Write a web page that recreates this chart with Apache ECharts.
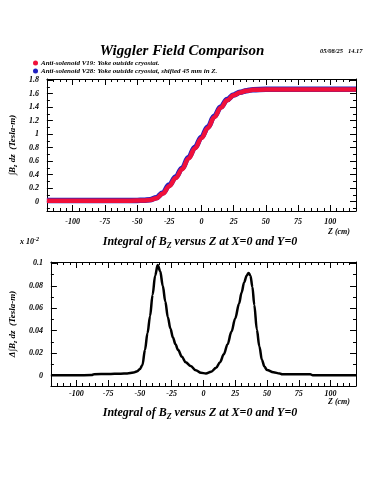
<!DOCTYPE html>
<html>
<head>
<meta charset="utf-8">
<script src="https://cdn.jsdelivr.net/npm/echarts@6/dist/echarts.min.js"></script>
<style>
  html, body { margin: 0; padding: 0; background: #fff; }
  #chart { width: 375px; height: 500px; }
</style>
</head>
<body>
<div id="chart"></div>
<script>
// top panel: integral of Bz along Z
const zTop = [-120, -100, -80, -60, -50, -45, -40, -35, -30, -25, -20, -15, -10, -5, 0, 5, 10, 15, 20, 25, 30, 35, 40, 50, 60, 80, 100, 120];
const fieldV19 = [0.015, 0.015, 0.015, 0.015, 0.016, 0.019, 0.026, 0.05, 0.12, 0.23, 0.35, 0.48, 0.64, 0.79, 0.94, 1.09, 1.25, 1.39, 1.5, 1.575, 1.615, 1.64, 1.655, 1.66, 1.66, 1.66, 1.66, 1.66];
const fieldV28 = [0.017, 0.017, 0.017, 0.017, 0.018, 0.021, 0.03, 0.058, 0.13, 0.245, 0.365, 0.495, 0.655, 0.805, 0.955, 1.105, 1.265, 1.4, 1.51, 1.58, 1.618, 1.642, 1.657, 1.662, 1.662, 1.662, 1.662, 1.662];

// bottom panel: difference
const zDiff = [-120, -100, -88, -86, -75, -65, -60, -55, -52, -50, -48, -46, -44, -42, -40, -38, -36, -34, -32, -30, -28, -26, -24, -22, -20, -17, -14, -10, -6, -2, 2, 6, 10, 13, 16, 19, 22, 25, 28, 30, 32, 34, 35.5, 37, 38.5, 40, 42, 44, 46, 48, 50, 55, 60, 62, 84, 86, 100, 120];
const fieldDiff = [0.0004, 0.0004, 0.0005, 0.0013, 0.0015, 0.0018, 0.002, 0.0028, 0.004, 0.006, 0.0095, 0.023, 0.038, 0.053, 0.072, 0.089, 0.0985, 0.093, 0.08, 0.066, 0.052, 0.042, 0.034, 0.028, 0.023, 0.017, 0.012, 0.0085, 0.0048, 0.0025, 0.002, 0.0034, 0.007, 0.012, 0.019, 0.028, 0.039, 0.051, 0.064, 0.074, 0.083, 0.089, 0.0915, 0.089, 0.079, 0.063, 0.041, 0.026, 0.014, 0.008, 0.005, 0.003, 0.002, 0.0012, 0.0012, 0.0004, 0.0004, 0.0004];

// ticks
const zMajor = [-100, -75, -50, -25, 0, 25, 50, 75, 100];
const zMinor = [-115, -110, -105, -95, -90, -85, -80, -70, -65, -60, -55, -45, -40, -35, -30, -20, -15, -10, -5, 5, 10, 15, 20, 30, 35, 40, 45, 55, 60, 65, 70, 80, 85, 90, 95, 105, 110, 115];
const topMajor = [0, 0.2, 0.4, 0.6, 0.8, 1, 1.2, 1.4, 1.6, 1.8];
const topMinor = [-0.1, 0.1, 0.3, 0.5, 0.7, 0.9, 1.1, 1.3, 1.5, 1.7];
const botMajor = [0, 0.02, 0.04, 0.06, 0.08, 0.1];
const botMinor = [0.01, 0.03, 0.05, 0.07, 0.09];

const serif = "Liberation Serif";
const lab = { fontFamily: serif, fontStyle: "italic", fontWeight: "bold", color: "#000" };

const zRange = [-120, 120];
const topRange = [-0.138, 1.815];
const botRange = [-0.0092, 0.1012];

function xAx(grid, pos, ticks, len, main, labels, margin) {
  return {
    type: "value", gridIndex: grid, position: pos, min: zRange[0], max: zRange[1],
    splitLine: { show: false },
    axisLine: { show: main, onZero: false, lineStyle: { color: "#000", width: 1 } },
    axisTick: { show: true, inside: true, length: len, customValues: ticks, lineStyle: { color: "#000" } },
    axisLabel: labels ? { show: true, customValues: labels, margin: margin, fontSize: 8, ...lab } : { show: false },
  };
}
function yAx(grid, pos, range, ticks, len, main, labels) {
  return {
    type: "value", gridIndex: grid, position: pos, min: range[0], max: range[1],
    splitLine: { show: false },
    axisLine: { show: main, onZero: false, lineStyle: { color: "#000", width: 1 } },
    axisTick: { show: true, inside: true, length: len, customValues: ticks, lineStyle: { color: "#000" } },
    axisLabel: labels ? { show: true, customValues: labels, margin: 8, fontSize: 8, ...lab,
      formatter: (v) => String(+v.toFixed(3)) } : { show: false },
  };
}

const yTopMain = yAx(0, "left", topRange, topMajor, 6, true, topMajor);
yTopMain.name = "∫B{s|z} dz  (Tesla-m)";
yTopMain.nameLocation = "middle";
yTopMain.nameGap = 28;
yTopMain.nameRotate = 90;
yTopMain.nameTextStyle = { fontSize: 9, ...lab, rich: { s: { fontSize: 6, ...lab, padding: [5, 0, 0, 0] } } };

const yBotMain = yAx(1, "left", botRange, botMajor, 6, true, botMajor);
yBotMain.name = "Δ∫B{s|z} dz  (Tesla-m)";
yBotMain.nameLocation = "middle";
yBotMain.nameGap = 28;
yBotMain.nameRotate = 90;
yBotMain.nameTextStyle = { fontSize: 9, ...lab, rich: { s: { fontSize: 6, ...lab, padding: [5, 0, 0, 0] } } };

const nameV19 = "Anti-solenoid V19: Yoke outside cryostat.";
const nameV28 = "Anti-solenoid V28: Yoke outside cryostat, shifted 45 mm in Z.";

const chart = echarts.init(document.getElementById("chart"), null, { renderer: "canvas" });
chart.setOption({
  animation: false,
  backgroundColor: "#fff",
  grid: [
    { left: 46, top: 79, width: 310, height: 132 },
    { left: 46, top: 262, width: 310, height: 124 },
  ],
  legend: {
    orient: "vertical", left: 33, top: 59, itemWidth: 5, itemHeight: 5, itemGap: 0,
    icon: "circle", data: [nameV19, nameV28], padding: 0,
    textStyle: { fontSize: 7, lineHeight: 8, ...lab, padding: [0, 0, 0, -2] },
  },
  xAxis: [
    xAx(0, "bottom", zMajor, 6, true, zMajor, 7),
    xAx(0, "bottom", zMinor, 3, false, null),
    xAx(0, "top", zMajor, 6, true, null),
    xAx(0, "top", zMinor, 3, false, null),
    xAx(1, "bottom", zMajor, 6, true, zMajor, 4),
    xAx(1, "bottom", zMinor, 3, false, null),
    xAx(1, "top", zMajor, 6, true, null),
    xAx(1, "top", zMinor, 3, false, null),
  ],
  yAxis: [
    yTopMain,
    yAx(0, "left", topRange, topMinor, 3, false, null),
    yAx(0, "right", topRange, topMajor, 6, true, null),
    yAx(0, "right", topRange, topMinor, 3, false, null),
    yBotMain,
    yAx(1, "left", botRange, botMinor, 3, false, null),
    yAx(1, "right", botRange, botMajor, 6, true, null),
    yAx(1, "right", botRange, botMinor, 3, false, null),
  ],
  series: [
    {
      name: nameV28, type: "line", xAxisIndex: 0, yAxisIndex: 0,
      data: zTop.map((z, i) => [z, fieldV28[i]]),
      smooth: 0.4, smoothMonotone: "x", showSymbol: false,
      itemStyle: { color: "#2020c0" }, lineStyle: { color: "#2020c0", width: 5.5 },
    },
    {
      name: nameV19, type: "line", xAxisIndex: 0, yAxisIndex: 0,
      data: zTop.map((z, i) => [z, fieldV19[i]]),
      smooth: 0.4, smoothMonotone: "x", showSymbol: false,
      itemStyle: { color: "#f0103a" }, lineStyle: { color: "#f0103a", width: 4.5 },
    },
    {
      name: "diff", type: "line", xAxisIndex: 4, yAxisIndex: 4,
      data: zDiff.map((z, i) => [z, fieldDiff[i]]),
      smooth: 0.35, smoothMonotone: "x", showSymbol: false,
      lineStyle: { color: "#000", width: 2.5 },
    },
  ],
  graphic: [
    { type: "text", x: 182, y: 51, style: { text: "Wiggler Field Comparison", fontSize: 15, ...lab, fill: "#000", align: "center", verticalAlign: "middle" } },
    { type: "text", x: 320, y: 51, style: { text: "05/08/25   14.17", fontSize: 6.5, ...lab, fill: "#000", verticalAlign: "middle" } },
    { type: "text", x: 350, y: 232, style: { text: "Z (cm)", fontSize: 8, ...lab, fill: "#000", align: "right", verticalAlign: "middle" } },
    { type: "text", x: 350, y: 402, style: { text: "Z (cm)", fontSize: 8, ...lab, fill: "#000", align: "right", verticalAlign: "middle" } },
    { type: "text", x: 200, y: 242, style: { text: "Integral of B{s|Z} versus Z at X=0 and Y=0", fontSize: 12, ...lab, fill: "#000",
        align: "center", verticalAlign: "middle", rich: { s: { fontSize: 8, ...lab, padding: [7, 0, 0, 0] } } } },
    { type: "text", x: 200, y: 413, style: { text: "Integral of B{s|Z} versus Z at X=0 and Y=0", fontSize: 12, ...lab, fill: "#000",
        align: "center", verticalAlign: "middle", rich: { s: { fontSize: 8, ...lab, padding: [7, 0, 0, 0] } } } },
    { type: "text", x: 20, y: 242, style: { text: "x 10{p|-2}", fontSize: 8, ...lab, fill: "#000",
        verticalAlign: "middle", rich: { p: { fontSize: 6, ...lab, padding: [0, 0, 6, 0] } } } },
  ],
});
</script>
</body>
</html>
